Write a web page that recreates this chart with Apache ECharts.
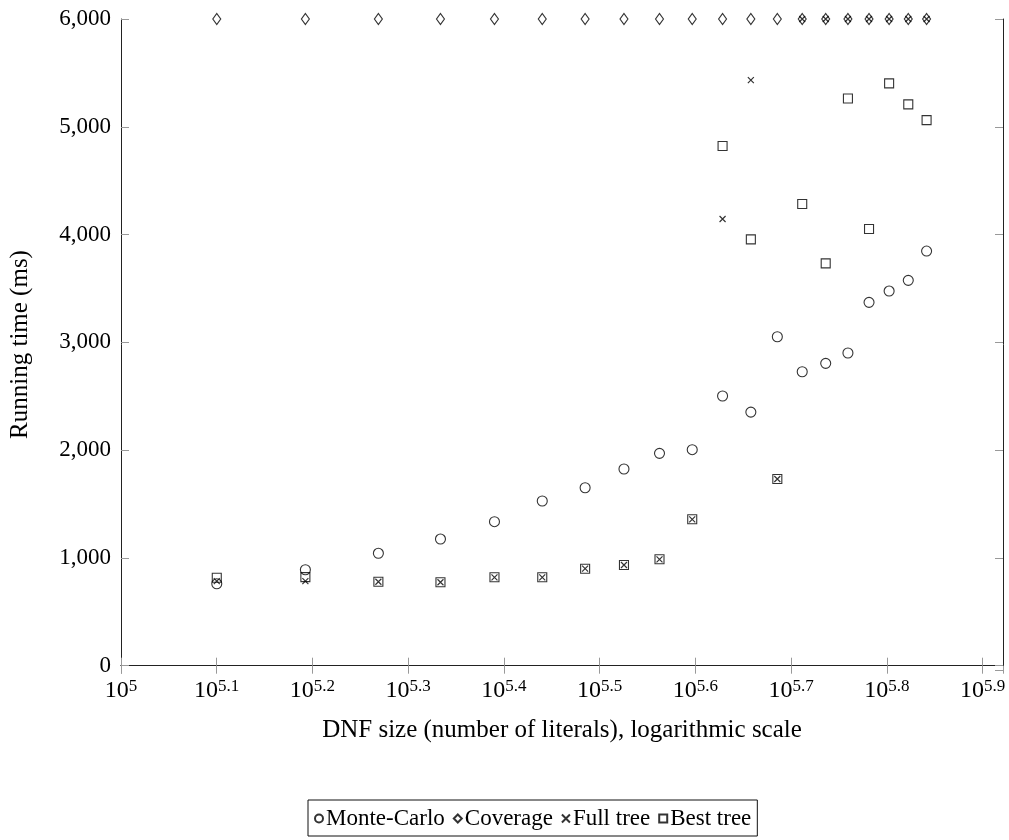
<!DOCTYPE html>
<html><head><meta charset="utf-8">
<script src="https://cdn.jsdelivr.net/npm/echarts@6/dist/echarts.min.js"></script>
<style>html,body{margin:0;padding:0;background:#fff}#c{width:1009px;height:840px}</style>
</head><body><div id="c"></div>
<script>
// DNF sizes (number of literals)
const sizes = [125900,155800,185700,215600,245500,275400,305300,335200,365100,395000,424900,454800,484700,514600,544500,574400,604300,634200,664100,694000];
// Running times (ms)
const monteCarlo = [760,890,1043,1175,1336,1528,1651,1825,1970,2004,2502,2353,3052,2727,2805,2901,3371,3476,3575,3847];
const coverage   = [6000,6000,6000,6000,6000,6000,6000,6000,6000,6000,6000,6000,6000,6000,6000,6000,6000,6000,6000,6000];
const fullTree   = [785,785,779,774,820,820,900,934,987,1358,4144,5433,1732,6000,6000,6000,6000,6000,6000,6000];
const bestTree   = [816,822,779,774,820,820,900,934,987,1358,4821,3955,1732,4283,3733,5263,4051,5403,5208,5062];
const seriesNames = ['Monte-Carlo','Coverage','Full tree','Best tree'];
const xTickExponents = [5,5.1,5.2,5.3,5.4,5.5,5.6,5.7,5.8,5.9];
const yTicks = [0,1000,2000,3000,4000,5000,6000];

const FONT = 'Liberation Serif';
const pair = (ys) => sizes.map((x, i) => [x, ys[i]]);
const crossPath = 'path://M0,0L10,10M10,0L0,10';

const chart = echarts.init(document.getElementById('c'), null, {renderer: 'canvas'});
const xFmt = (v) => {
  const e = Math.round(Math.log10(v) * 10) / 10;
  if (!xTickExponents.some(t => Math.abs(t - e) < 1e-6) || Math.abs(Math.log10(v) - e) > 1e-3) return '';
  return '{b|10}{s|' + (Number.isInteger(e) ? e.toFixed(0) : e.toFixed(1)) + '}';
};
const yFmt = (v) => yTicks.includes(v) ? v.toLocaleString('en-US') : '';
const lineStyle = {color: '#222', width: 1};
const tickStyle = {color: '#999', width: 1};

chart.setOption({
  animation: false,
  backgroundColor: '#fff',
  grid: {left: 121, right: 6, top: 19, bottom: 170, show: false},
  legend: {
    data: seriesNames,
    left: 308, top: 800,
    padding: [7, 6, 6, 6],
    itemGap: 8, itemWidth: 8, itemHeight: 8,
    borderColor: '#111', borderWidth: 1, borderRadius: 0,
    textStyle: {fontFamily: FONT, fontSize: 23, color: '#000', padding: [0, 0, 0, -2]}
  },
  xAxis: [{
    type: 'log', logBase: Math.pow(10, 0.1), min: 100000, max: 834000,
    name: 'DNF size (number of literals), logarithmic scale',
    nameLocation: 'middle', nameGap: 48,
    nameTextStyle: {fontFamily: FONT, fontSize: 25, color: '#000'},
    axisLine: {show: true, lineStyle},
    axisTick: {show: true, inside: true, length: 8, lineStyle: tickStyle},
    minorTick: {show: false},
    splitLine: {show: false},
    axisLabel: {
      formatter: xFmt, margin: 8, showMaxLabel: false,
      rich: {
        b: {fontFamily: FONT, fontSize: 24, color: '#000', lineHeight: 26},
        s: {fontFamily: FONT, fontSize: 17, color: '#000', lineHeight: 12, verticalAlign: 'top'}
      }
    }
  }, {
    type: 'log', logBase: Math.pow(10, 0.1), min: 100000, max: 834000, position: 'top',
    axisLine: {show: true, lineStyle},
    axisTick: {show: true, inside: true, length: 8, lineStyle: tickStyle},
    axisLabel: {show: false}, splitLine: {show: false}
  }],
  yAxis: [{
    type: 'value', min: -40, max: 6000,
    name: 'Running time (ms)', nameLocation: 'middle', nameGap: 88, nameRotate: 90,
    nameTextStyle: {fontFamily: FONT, fontSize: 25, color: '#000'},
    axisLine: {show: true, lineStyle},
    axisTick: {show: true, inside: true, length: 8, lineStyle: tickStyle},
    splitLine: {show: false},
    axisLabel: {formatter: yFmt, margin: 10, showMinLabel: false, fontFamily: FONT, fontSize: 23, color: '#000'}
  }, {
    type: 'value', min: -40, max: 6000, position: 'right',
    axisLine: {show: true, lineStyle},
    axisTick: {show: true, inside: true, length: 8, lineStyle: tickStyle},
    axisLabel: {show: false}, splitLine: {show: false}
  }],
  series: [
    {name: 'Monte-Carlo', type: 'scatter', data: pair(monteCarlo), symbol: 'circle', symbolSize: 10, clip: false,
     itemStyle: {color: 'rgba(0,0,0,0)', borderColor: '#000', borderWidth: 1.1}},
    {name: 'Coverage', type: 'scatter', data: pair(coverage), symbol: 'diamond', symbolSize: [8, 11], clip: false,
     itemStyle: {color: '#fff', borderColor: '#000', borderWidth: 1.1}},
    {name: 'Full tree', type: 'scatter', data: pair(fullTree), symbol: crossPath, symbolSize: 6, clip: false,
     itemStyle: {color: 'rgba(0,0,0,0)', borderColor: '#000', borderWidth: 1.2}},
    {name: 'Best tree', type: 'scatter', data: pair(bestTree), symbol: 'rect', symbolSize: 9, clip: false,
     itemStyle: {color: 'rgba(0,0,0,0)', borderColor: '#000', borderWidth: 1.1}}
  ]
});
</script></body></html>
